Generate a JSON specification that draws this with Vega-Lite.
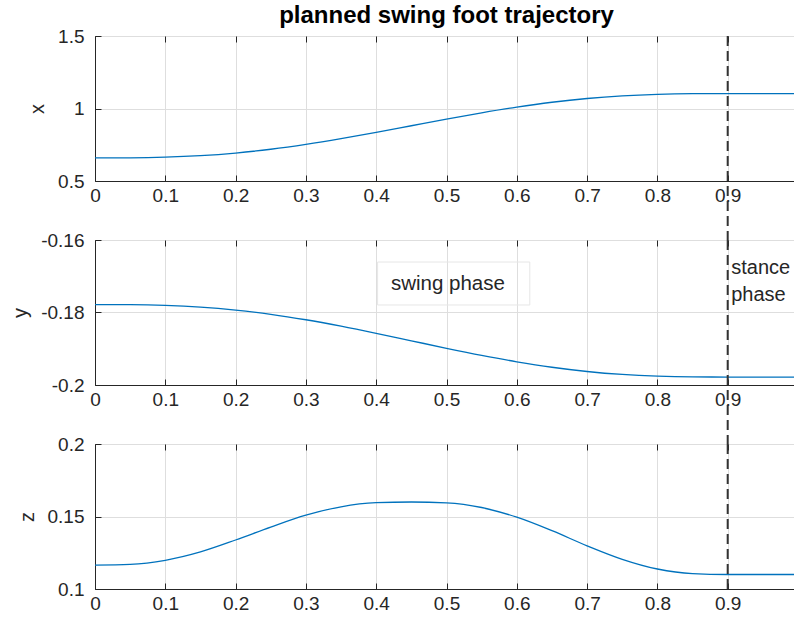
{
  "$schema": "https://vega.github.io/schema/vega-lite/v6.json",
  "autosize": "none",
  "padding": {"left": 95, "top": 36, "right": 699, "bottom": 591},
  "datasets": {
    "traj": [
      {"t": 0, "x": 0.659, "y": -0.1778, "z": 0.1165},
      {"t": 0.05, "x": 0.6597, "y": -0.17783, "z": 0.117},
      {"t": 0.1, "x": 0.6641, "y": -0.17803, "z": 0.1198},
      {"t": 0.15, "x": 0.6748, "y": -0.17851, "z": 0.1256},
      {"t": 0.2, "x": 0.6929, "y": -0.17933, "z": 0.1338},
      {"t": 0.25, "x": 0.7189, "y": -0.1805, "z": 0.1427},
      {"t": 0.3, "x": 0.7522, "y": -0.182, "z": 0.1509},
      {"t": 0.35, "x": 0.7915, "y": -0.18377, "z": 0.1567},
      {"t": 0.4, "x": 0.8351, "y": -0.18573, "z": 0.1595},
      {"t": 0.45, "x": 0.881, "y": -0.1878, "z": 0.16},
      {"t": 0.5, "x": 0.9269, "y": -0.18987, "z": 0.1594},
      {"t": 0.55, "x": 0.9705, "y": -0.19183, "z": 0.1562},
      {"t": 0.6, "x": 1.0098, "y": -0.1936, "z": 0.1495},
      {"t": 0.65, "x": 1.0431, "y": -0.1951, "z": 0.1402},
      {"t": 0.7, "x": 1.0691, "y": -0.19627, "z": 0.1298},
      {"t": 0.75, "x": 1.0872, "y": -0.19709, "z": 0.1205},
      {"t": 0.8, "x": 1.0979, "y": -0.19757, "z": 0.1138},
      {"t": 0.85, "x": 1.1023, "y": -0.19777, "z": 0.1106},
      {"t": 0.9, "x": 1.103, "y": -0.1978, "z": 0.11},
      {"t": 0.95, "x": 1.103, "y": -0.1978, "z": 0.11},
      {"t": 1, "x": 1.103, "y": -0.1978, "z": 0.11}
    ],
    "phase": [{"t": 0.9}]
  },
  "vconcat": [
    {
      "width": 703,
      "height": 145,
      "title": {"text": "planned swing foot trajectory", "anchor": "middle", "frame": "group", "fontSize": 24, "fontWeight": "bold", "font": "Liberation Sans", "color": "#000000", "baseline": "alphabetic", "offset": -20},
      "resolve": {"axis": {"x": "independent"}},
      "layer": [
        {
          "data": {"name": "traj"},
          "mark": {"type": "line", "color": "#0072BD", "strokeWidth": 1.3, "interpolate": "monotone"},
          "encoding": {
            "x": {"field": "t", "type": "quantitative", "scale": {"domain": [0, 1], "nice": false},
              "axis": {"title": null, "values": [0, 0.1, 0.2, 0.3, 0.4, 0.5, 0.6, 0.7, 0.8, 0.9, 1], "labelExpr": "'' + datum.value"}},
            "y": {"field": "x", "type": "quantitative", "scale": {"domain": [0.5, 1.5], "nice": false, "zero": false},
              "axis": {"title": "x", "values": [0.5, 1, 1.5], "labelExpr": "'' + datum.value"}}
          }
        },
        {
          "data": {"name": "phase"},
          "mark": {"type": "rule", "color": "#333333", "strokeWidth": 2, "strokeDash": [10, 5]},
          "encoding": {
            "x": {"field": "t", "type": "quantitative",
              "axis": {"orient": "top", "labels": false, "domain": false, "grid": false, "title": null, "values": [0, 0.1, 0.2, 0.3, 0.4, 0.5, 0.6, 0.7, 0.8, 0.9, 1]}},
            "y": {"datum": 1.5},
            "y2": {"datum": 0.093}
          }
        }
      ]
    },
    {
      "width": 703,
      "height": 145,
      "resolve": {"axis": {"x": "independent"}},
      "layer": [
        {
          "data": {"name": "traj"},
          "mark": {"type": "line", "color": "#0072BD", "strokeWidth": 1.3, "interpolate": "monotone"},
          "encoding": {
            "x": {"field": "t", "type": "quantitative", "scale": {"domain": [0, 1], "nice": false},
              "axis": {"title": null, "values": [0, 0.1, 0.2, 0.3, 0.4, 0.5, 0.6, 0.7, 0.8, 0.9, 1], "labelExpr": "'' + datum.value"}},
            "y": {"field": "y", "type": "quantitative", "scale": {"domain": [-0.2, -0.16], "nice": false, "zero": false},
              "axis": {"title": "y", "values": [-0.2, -0.18, -0.16], "labelExpr": "'' + datum.value"}}
          }
        },
        {
          "data": {"name": "phase"},
          "mark": {"type": "rule", "color": "#333333", "strokeWidth": 2, "strokeDash": [10, 5]},
          "encoding": {
            "x": {"field": "t", "type": "quantitative",
              "axis": {"orient": "top", "labels": false, "domain": false, "grid": false, "title": null, "values": [0, 0.1, 0.2, 0.3, 0.4, 0.5, 0.6, 0.7, 0.8, 0.9, 1]}},
            "y": {"datum": -0.16},
            "y2": {"datum": -0.21628}
          }
        },
        {
          "data": {"values": [{"label": "swing phase"}]},
          "mark": {"type": "rect", "fillOpacity": 0, "stroke": "#e6e6e6", "strokeWidth": 1},
          "encoding": {
            "x": {"datum": 0.402, "type": "quantitative", "axis": null},
            "x2": {"datum": 0.6185},
            "y": {"datum": -0.16607, "type": "quantitative"},
            "y2": {"datum": -0.17793}
          }
        },
        {
          "data": {"values": [{"label": "swing phase"}]},
          "mark": {"type": "text", "fontSize": 20.5, "font": "Liberation Sans", "color": "#262626", "align": "center", "baseline": "middle"},
          "encoding": {
            "x": {"datum": 0.502, "type": "quantitative", "axis": null},
            "y": {"datum": -0.17214, "type": "quantitative"},
            "text": {"field": "label"}
          }
        },
        {
          "data": {"values": [{"label": "stance"}]},
          "mark": {"type": "text", "fontSize": 20, "font": "Liberation Sans", "color": "#262626", "align": "left", "baseline": "middle"},
          "encoding": {
            "x": {"datum": 0.905, "type": "quantitative", "axis": null},
            "y": {"datum": -0.16772, "type": "quantitative"},
            "text": {"field": "label"}
          }
        },
        {
          "data": {"values": [{"label": "phase"}]},
          "mark": {"type": "text", "fontSize": 20, "font": "Liberation Sans", "color": "#262626", "align": "left", "baseline": "middle"},
          "encoding": {
            "x": {"datum": 0.905, "type": "quantitative", "axis": null},
            "y": {"datum": -0.17517, "type": "quantitative"},
            "text": {"field": "label"}
          }
        }
      ]
    },
    {
      "width": 703,
      "height": 145,
      "resolve": {"axis": {"x": "independent"}},
      "layer": [
        {
          "data": {"name": "traj"},
          "mark": {"type": "line", "color": "#0072BD", "strokeWidth": 1.3, "interpolate": "monotone"},
          "encoding": {
            "x": {"field": "t", "type": "quantitative", "scale": {"domain": [0, 1], "nice": false},
              "axis": {"title": null, "values": [0, 0.1, 0.2, 0.3, 0.4, 0.5, 0.6, 0.7, 0.8, 0.9, 1], "labelExpr": "'' + datum.value"}},
            "y": {"field": "z", "type": "quantitative", "scale": {"domain": [0.1, 0.2], "nice": false, "zero": false},
              "axis": {"title": "z", "values": [0.1, 0.15, 0.2], "labelExpr": "'' + datum.value"}}
          }
        },
        {
          "data": {"name": "phase"},
          "mark": {"type": "rule", "color": "#333333", "strokeWidth": 2, "strokeDash": [10, 5]},
          "encoding": {
            "x": {"field": "t", "type": "quantitative",
              "axis": {"orient": "top", "labels": false, "domain": false, "grid": false, "title": null, "values": [0, 0.1, 0.2, 0.3, 0.4, 0.5, 0.6, 0.7, 0.8, 0.9, 1]}},
            "y": {"datum": 0.2},
            "y2": {"datum": 0.1}
          }
        }
      ]
    }
  ],
  "spacing": 59,
  "bounds": "flush",
  "config": {
    "font": "Liberation Sans",
    "view": {"stroke": "#262626", "strokeWidth": 1},
    "axis": {
      "labelFont": "Liberation Sans",
      "labelFontSize": 19,
      "labelColor": "#262626",
      "titleFont": "Liberation Sans",
      "titleFontSize": 20,
      "titleFontWeight": "normal",
      "titleColor": "#262626",
      "domainColor": "#262626",
      "domainWidth": 1,
      "tickColor": "#262626",
      "tickSize": -6,
      "tickWidth": 1,
      "gridColor": "#dedede",
      "gridOpacity": 1,
      "labelFlush": false,
      "labelOverlap": false
    },
    "axisX": {"labelPadding": 11},
    "axisY": {"labelPadding": 17, "titlePadding": 10}
  }
}
